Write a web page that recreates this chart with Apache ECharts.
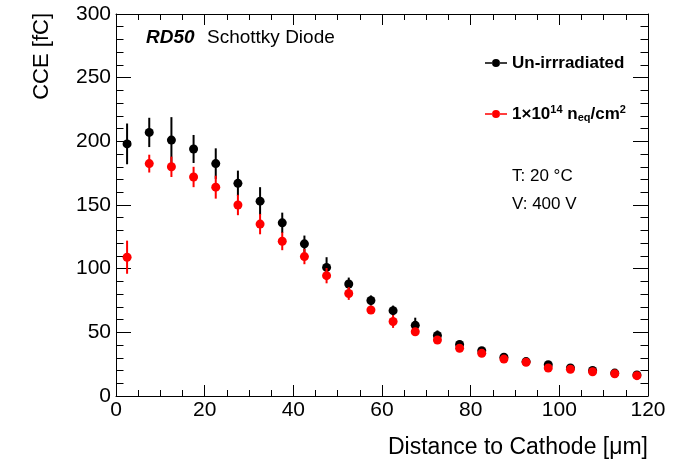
<!DOCTYPE html>
<html>
<head>
<meta charset="utf-8">
<script src="https://cdn.jsdelivr.net/npm/echarts@6/dist/echarts.min.js"></script>
<style>
html,body{margin:0;padding:0;background:#fff;}
#c{width:690px;height:461px;}
</style>
</head>
<body>
<div id="c"></div>
<script>
// Data
const positions = [2.5,7.5,12.5,17.5,22.5,27.5,32.5,37.5,42.5,47.5,52.5,57.5,62.5,67.5,72.5,77.5,82.5,87.5,92.5,97.5,102.5,107.5,112.5,117.5];
const unirrValues = [198,207,201,194,182.5,167,153,136,119.5,101,88,75,67,55.5,47.5,40.5,35.5,30.5,27,24.5,22,20,18,16.5];
const unirrErrors = [16,11.5,18,11,12,10,11,8,6.5,8,5,4,4,6,4,3,3,3,2,2,2,2,2,2];
const irrValues = [109,182.5,180,172,164,150,135,121.5,109.5,94.5,80.5,67.5,58.5,50.5,44,37.5,33.5,29,26.5,22,21,19,17.5,16];
const irrErrors = [13,7,8,8,9,8,8,7,6,6,5,3,5,3,3,3,2,2,2,2,2,2,2,2];
const seriesNames = ['Un-irrradiated', 'irr'];
const xTitle = 'Distance to Cathode [\u03bcm]';
const yTitle = 'CCE [fC]';

const FONT = 'Liberation Sans, Arial, Helvetica, sans-serif';
const chart = echarts.init(document.getElementById('c'), null, {renderer:'canvas'});

function errSeries(vals, errs, color) {
  return {
    type: 'custom',
    silent: true,
    z: color === '#ff0000' ? 3 : 1,
    data: positions.map((x, i) => [x, vals[i], errs[i]]),
    renderItem: function (params, api) {
      const x = api.value(0), y = api.value(1), e = api.value(2);
      const p1 = api.coord([x, y - e]);
      const p2 = api.coord([x, y + e]);
      return {type: 'line', shape: {x1: p1[0], y1: p1[1], x2: p2[0], y2: p2[1]}, style: {stroke: color, lineWidth: 2}};
    }
  };
}

const icon = 'path://M0,4.2L7.2,4.2L7.2,5.8L0,5.8Z M14.8,4.2L22,4.2L22,5.8L14.8,5.8Z M7,5A4,4,0,1,0,15,5A4,4,0,1,0,7,5Z';
const axisBase = {
  type: 'value', min: 0,
  splitLine: {show: false},
  axisLine: {show: true, onZero: false, lineStyle: {color: '#000', width: 1}},
};

chart.setOption({
  animation: false,
  backgroundColor: '#fff',
  grid: {left: 116, right: 42, top: 14, bottom: 65},
  xAxis: [
    Object.assign({}, axisBase, {
      max: 120, interval: 20, position: 'bottom',
      axisTick: {show: true, inside: true, length: 11, lineStyle: {color: '#000'}},
      minorTick: {show: true, splitNumber: 4, length: 6, lineStyle: {color: '#000'}},
      axisLabel: {color: '#000', fontFamily: FONT, fontSize: 21, margin: 4, showMinLabel: true, showMaxLabel: true}
    }),
    Object.assign({}, axisBase, {
      max: 120, interval: 20, position: 'top',
      axisTick: {show: true, inside: true, length: 11, lineStyle: {color: '#000'}},
      minorTick: {show: true, splitNumber: 4, length: 6, lineStyle: {color: '#000'}},
      axisLabel: {show: false}
    })
  ],
  yAxis: [
    Object.assign({}, axisBase, {
      max: 300, interval: 50, position: 'left',
      axisTick: {show: true, inside: true, length: 15, lineStyle: {color: '#000'}},
      minorTick: {show: true, splitNumber: 5, length: 7.5, lineStyle: {color: '#000'}},
      axisLabel: {color: '#000', fontFamily: FONT, fontSize: 21, margin: 5}
    }),
    Object.assign({}, axisBase, {
      max: 300, interval: 50, position: 'right',
      axisTick: {show: true, inside: true, length: 15, lineStyle: {color: '#000'}},
      minorTick: {show: true, splitNumber: 5, length: 7.5, lineStyle: {color: '#000'}},
      axisLabel: {show: false}
    })
  ],
  legend: {
    orient: 'vertical',
    left: 485, top: 52, padding: 0,
    itemWidth: 22, itemHeight: 10, itemGap: 29,
    selectedMode: false,
    data: seriesNames.map(n => ({name: n, icon: icon})),
    textStyle: {
      fontFamily: FONT, fontSize: 17, fontWeight: 'bold', color: '#000', lineHeight: 22,
      rich: {
        b: {fontFamily: FONT, fontSize: 17, fontWeight: 'bold', color: '#000', lineHeight: 22},
        sup: {fontFamily: FONT, fontSize: 11, fontWeight: 'bold', color: '#000', lineHeight: 22, padding: [0,0,9,0]},
        sub: {fontFamily: FONT, fontSize: 11, fontWeight: 'bold', color: '#000', lineHeight: 22, padding: [8,0,0,0]}
      }
    },
    formatter: function (name) {
      if (name === 'irr') return '{b|1\u00d710}{sup|14}{b| n}{sub|eq}{b|/cm}{sup|2}';
      return '{b|' + name + '}';
    }
  },
  graphic: [
    {type: 'text', left: 146, top: 28, style: {text: 'RD50', font: 'italic bold 19px ' + FONT, fill: '#000'}},
    {type: 'text', left: 207, top: 28, style: {text: 'Schottky Diode', font: '19px ' + FONT, fill: '#000'}},
    {type: 'text', left: 512, top: 168, style: {text: 'T: 20 \u00b0C', font: '17px ' + FONT, fill: '#000'}},
    {type: 'text', left: 512, top: 196, style: {text: 'V: 400 V', font: '17px ' + FONT, fill: '#000'}},
    {type: 'text', right: 42, top: 436, style: {text: xTitle, font: '23px ' + FONT, fill: '#000'}},
    {type: 'text', left: 31, top: 13, rotation: Math.PI / 2, style: {text: yTitle, font: '22px ' + FONT, fill: '#000', align: 'right', verticalAlign: 'top'}}
  ],
  series: [
    errSeries(unirrValues, unirrErrors, '#000000'),
    {
      name: seriesNames[0], type: 'scatter', symbol: 'circle', symbolSize: 9, z: 2,
      itemStyle: {color: '#000000', opacity: 1},
      data: positions.map((x, i) => [x, unirrValues[i]])
    },
    errSeries(irrValues, irrErrors, '#ff0000'),
    {
      name: seriesNames[1], type: 'scatter', symbol: 'circle', symbolSize: 9, z: 4,
      itemStyle: {color: '#ff0000', opacity: 1},
      data: positions.map((x, i) => [x, irrValues[i]])
    }
  ]
});
</script>
</body>
</html>
